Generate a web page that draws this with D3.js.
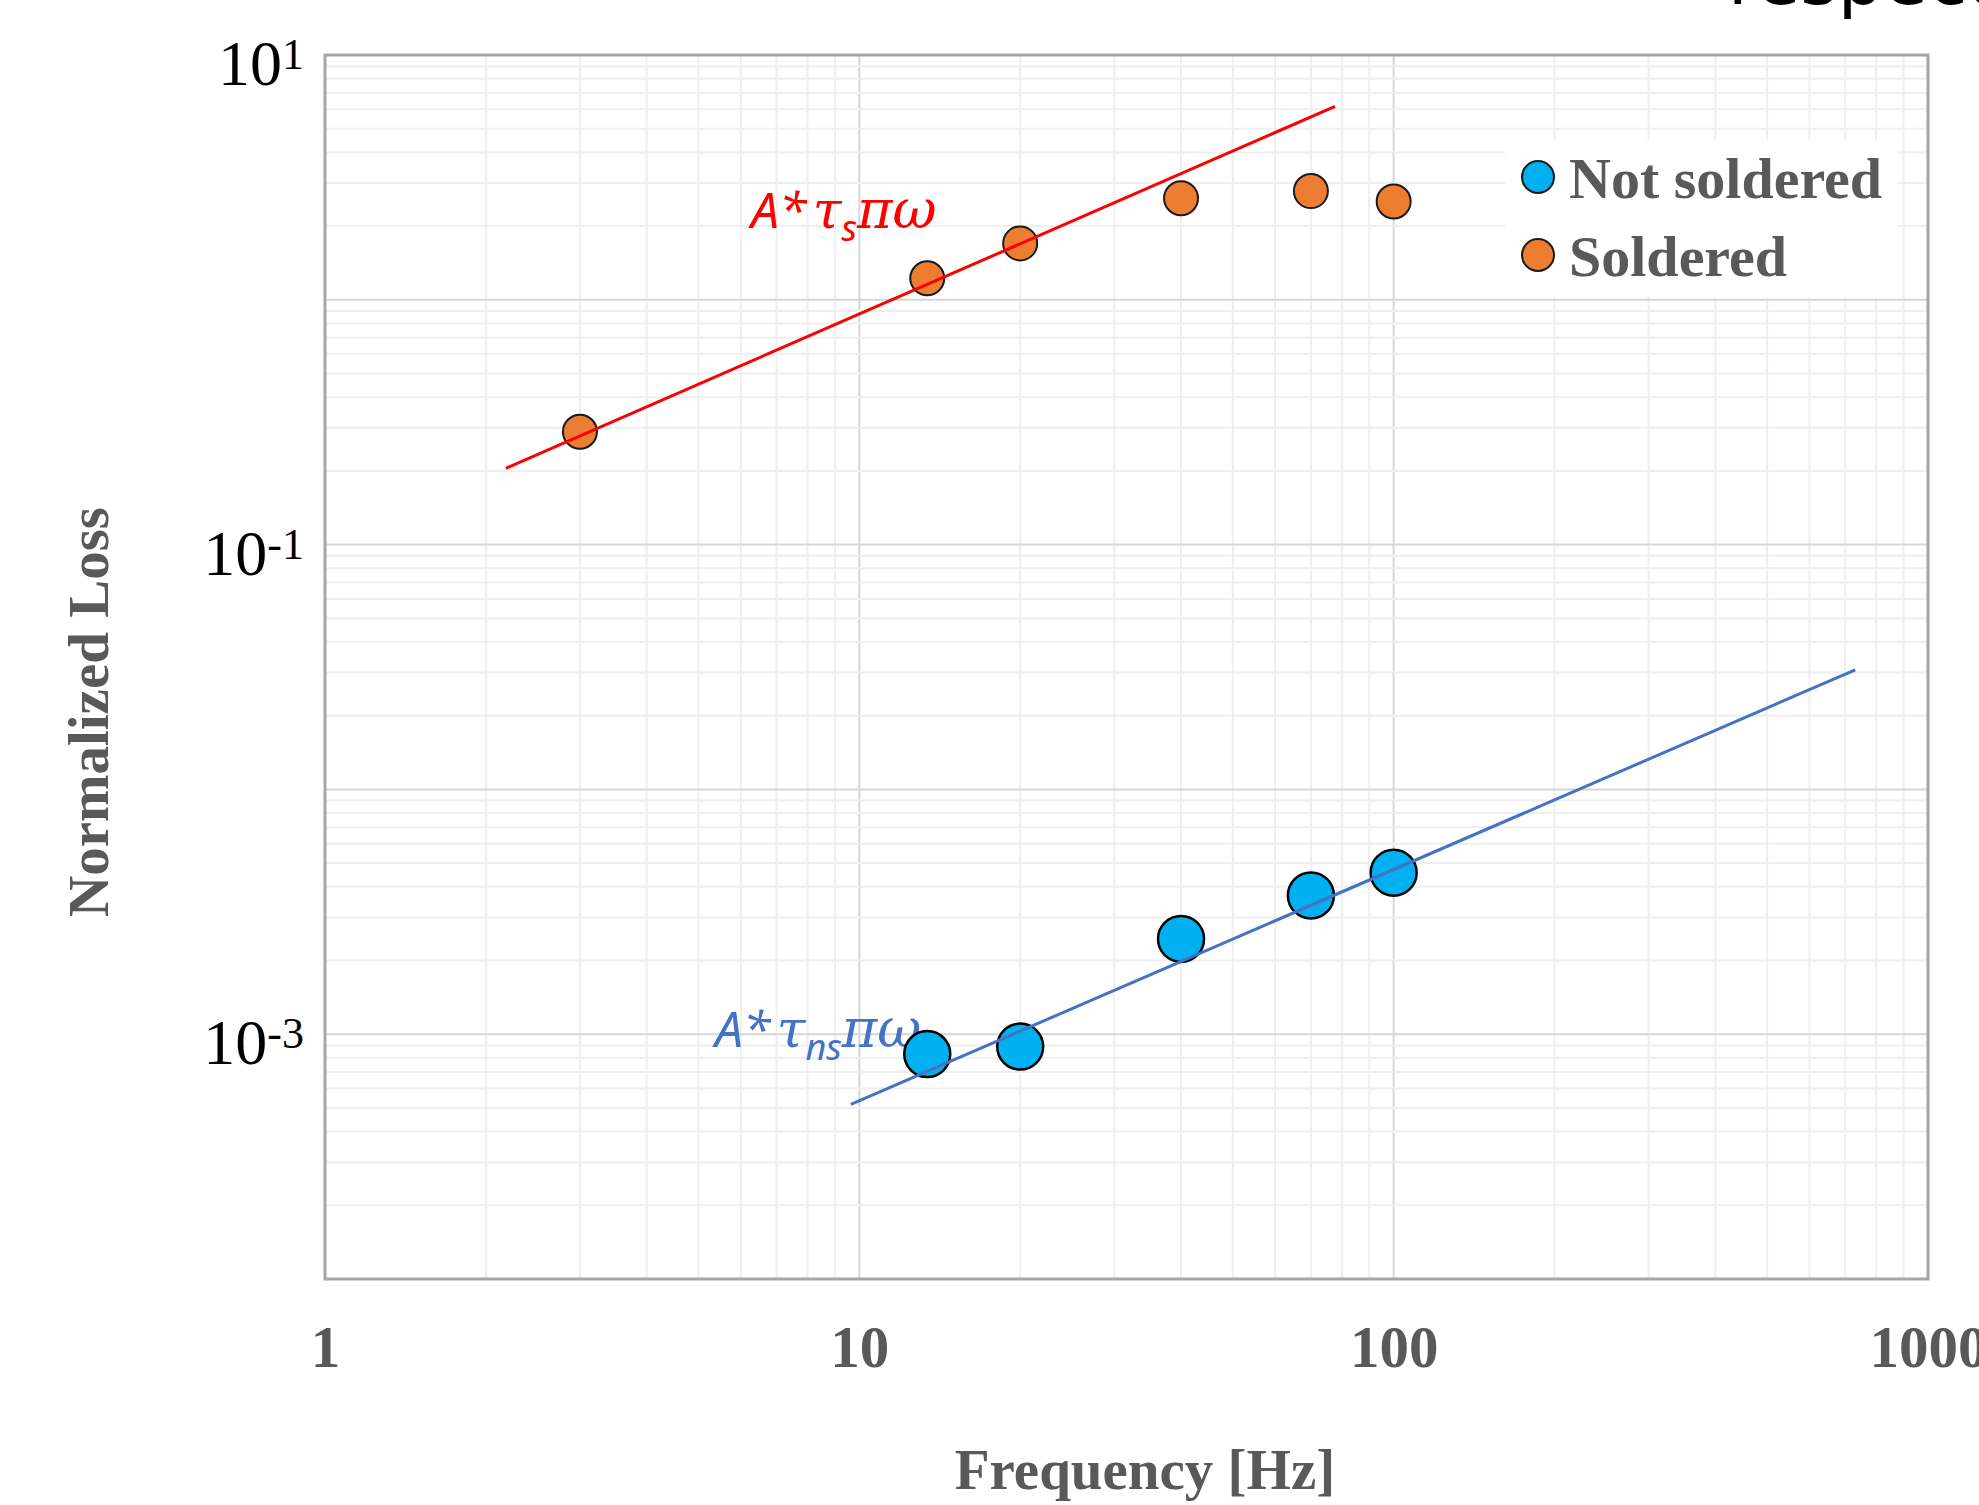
<!DOCTYPE html>
<html>
<head>
<meta charset="utf-8">
<script src="https://cdn.jsdelivr.net/npm/d3@7"></script>
<style>
  body { margin: 0; background: #fff; }
  svg { display: block; }
</style>
</head>
<body>
<script>
const width = 1979;
const height = 1505;

// data
const freqSoldered = [3, 13.4, 20, 40, 70, 100];
const lossSoldered = [0.289, 1.224, 1.70, 2.60, 2.78, 2.52];
const freqNotSoldered = [13.4, 20, 40, 70, 100];
const lossNotSoldered = [0.00083, 0.00089, 0.00245, 0.00369, 0.00457];

// fitted lines A*tau*pi*omega (end points)
const fitSoldered = [[2.18, 0.205], [77.7, 6.17]];
const fitNotSoldered = [[9.64, 0.000517], [731, 0.0308]];

const xTicks = [1, 10, 100, 1000];
const yTicks = [10, 0.1, 0.001];
const yTickExp = ["1", "-1", "-3"];
const seriesNames = ["Not soldered", "Soldered"];
const seriesColors = ["#00B0F0", "#ED7D31"];

const serif = "'Liberation Serif', 'Times New Roman', serif";
const sans = "'Noto Sans', 'Open Sans', sans-serif";
const greek = "'DejaVu Serif', serif";
const grey = "#595959";

const plotLeft = 325, plotRight = 1928, plotTop = 55, plotBottom = 1279;

const x = d3.scaleLog().domain([1, 1000]).range([plotLeft, plotRight]);
const y = d3.scaleLog().domain([1e-4, 10]).range([plotBottom, plotTop]);

const svg = d3.select("body").append("svg")
  .attr("width", width)
  .attr("height", height);

svg.append("rect").attr("width", width).attr("height", height).attr("fill", "#fff");

const isMajor = d => Math.abs(Math.log10(d) - Math.round(Math.log10(d))) < 1e-9;

// gridlines
const grid = svg.append("g");
grid.selectAll(".vx")
  .data(x.ticks().filter(d => d > 1 && d < 1000))
  .join("line")
  .attr("x1", d => x(d)).attr("x2", d => x(d))
  .attr("y1", plotTop).attr("y2", plotBottom)
  .attr("stroke", d => isMajor(d) ? "#d6d6d6" : "#efefef")
  .attr("stroke-width", 2);
grid.selectAll(".hy")
  .data(y.ticks().filter(d => d > 1e-4 && d < 10))
  .join("line")
  .attr("x1", plotLeft).attr("x2", plotRight)
  .attr("y1", d => y(d)).attr("y2", d => y(d))
  .attr("stroke", d => isMajor(d) ? "#d6d6d6" : "#efefef")
  .attr("stroke-width", 2);

// legend background hides the grid
svg.append("rect")
  .attr("x", 1505).attr("y", 140)
  .attr("width", 392).attr("height", 157)
  .attr("fill", "#fff");

// plot border
svg.append("rect")
  .attr("x", plotLeft).attr("y", plotTop)
  .attr("width", plotRight - plotLeft).attr("height", plotBottom - plotTop)
  .attr("fill", "none")
  .attr("stroke", "#a6a6a6")
  .attr("stroke-width", 3);

// x axis labels
const xAxis = svg.append("g")
  .attr("transform", `translate(0,${plotBottom})`)
  .call(d3.axisBottom(x).tickValues(xTicks).tickSize(0).tickPadding(46).tickFormat(d3.format("d")));
xAxis.select(".domain").remove();
xAxis.selectAll("text")
  .attr("fill", grey)
  .style("font-family", serif)
  .style("font-weight", "bold")
  .style("font-size", "59px");

// y axis labels with superscript exponents
const yAxis = svg.append("g")
  .attr("transform", `translate(${plotLeft},0)`)
  .call(d3.axisLeft(y).tickValues(yTicks).tickSize(0).tickPadding(21).tickFormat(() => ""));
yAxis.select(".domain").remove();
yAxis.selectAll("text")
  .attr("dy", "0.46em")
  .attr("fill", "#000")
  .style("font-family", serif)
  .style("font-size", "64px")
  .each(function (d, i) {
    const t = d3.select(this);
    t.append("tspan").text("10");
    t.append("tspan").attr("dy", "-0.36em").style("font-size", "44px").text(yTickExp[i]);
  });

// axis titles
svg.append("text")
  .attr("x", 1145).attr("y", 1489)
  .attr("text-anchor", "middle")
  .attr("fill", grey)
  .style("font-family", serif).style("font-weight", "bold").style("font-size", "57px")
  .text("Frequency [Hz]");
svg.append("text")
  .attr("transform", "translate(108,712) rotate(-90)")
  .attr("text-anchor", "middle")
  .attr("fill", grey)
  .style("font-family", serif).style("font-weight", "bold").style("font-size", "57px")
  .text("Normalized Loss");

// formula annotations
function formula(px, py, sub, color) {
  const t = svg.append("text").attr("x", px).attr("y", py).attr("fill", color)
    .style("font-style", "italic");
  t.append("tspan").style("font-family", sans).style("font-size", "50px").text("A*");
  t.append("tspan").style("font-family", greek).style("font-size", "52px").attr("dx", 6).text("τ");
  t.append("tspan").style("font-family", sans).style("font-size", "36px").attr("dy", 13).text(sub);
  t.append("tspan").style("font-family", greek).style("font-size", "54px").attr("dy", -13).text("πω");
}
formula(751, 228, "s", "#FF0000");
formula(715, 1047, "ns", "#4472C4");

// points
svg.append("g").selectAll("circle")
  .data(freqSoldered.map((f, i) => [f, lossSoldered[i]]))
  .join("circle")
  .attr("cx", d => x(d[0])).attr("cy", d => y(d[1]))
  .attr("r", 17)
  .attr("fill", seriesColors[1])
  .attr("stroke", "#1a1a1a").attr("stroke-width", 2);

svg.append("g").selectAll("circle")
  .data(freqNotSoldered.map((f, i) => [f, lossNotSoldered[i]]))
  .join("circle")
  .attr("cx", d => x(d[0])).attr("cy", d => y(d[1]))
  .attr("r", 23)
  .attr("fill", seriesColors[0])
  .attr("stroke", "#000").attr("stroke-width", 2.5);

// fit lines
const line = d3.line().x(d => x(d[0])).y(d => y(d[1]));
svg.append("path").datum(fitSoldered).attr("d", line)
  .attr("fill", "none").attr("stroke", "#FF0000").attr("stroke-width", 3);
svg.append("path").datum(fitNotSoldered).attr("d", line)
  .attr("fill", "none").attr("stroke", "#4472C4").attr("stroke-width", 3);

// legend
const legend = svg.append("g").selectAll("g")
  .data(seriesNames)
  .join("g")
  .attr("transform", (d, i) => `translate(1538,${177 + i * 78})`);
legend.append("circle")
  .attr("r", 16)
  .attr("fill", (d, i) => seriesColors[i])
  .attr("stroke", "#1a1a1a").attr("stroke-width", 2);
legend.append("text")
  .attr("x", 31).attr("y", 21)
  .attr("fill", grey)
  .style("font-family", serif).style("font-weight", "bold").style("font-size", "58px")
  .text(d => d);

// clipped word from the surrounding page
svg.append("text")
  .attr("x", 1728).attr("y", 4)
  .attr("fill", "#000")
  .style("font-family", "'DejaVu Sans', sans-serif").style("font-size", "72px")
  .text("respect");
</script>
</body>
</html>
